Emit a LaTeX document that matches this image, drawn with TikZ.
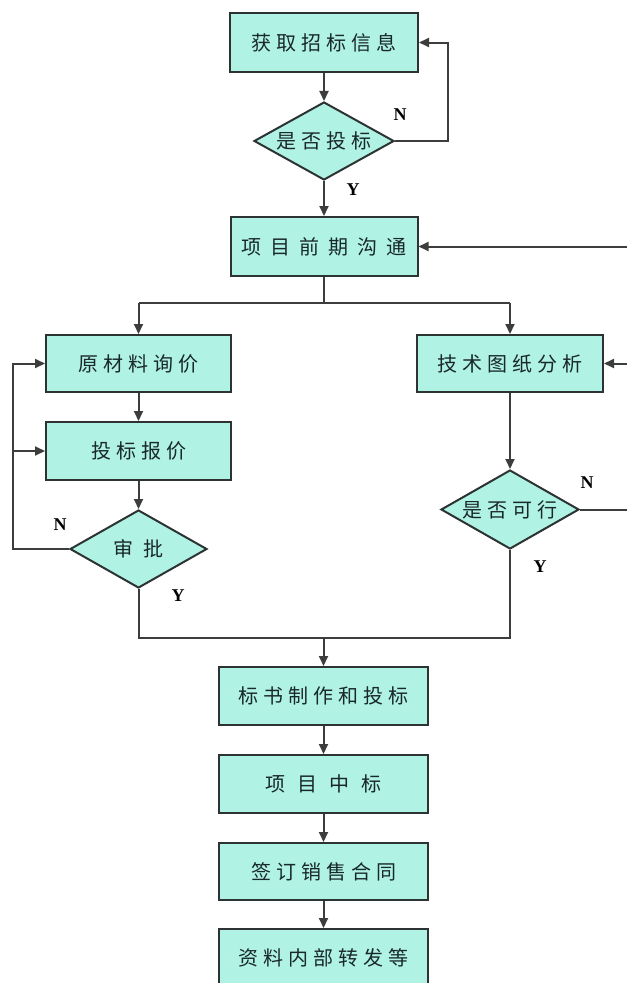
\documentclass[tikz,border=0pt]{standalone}
\usepackage{fontspec}
\setmainfont{Liberation Serif}
\newfontfamily\cjk{Noto Sans CJK SC}
\usetikzlibrary{shapes.geometric,arrows.meta}
\definecolor{boxfill}{RGB}{176,243,229}
\definecolor{boxline}{RGB}{45,50,50}
\definecolor{conn}{RGB}{60,62,62}
\definecolor{txt}{RGB}{25,40,40}
\newcommand{\gapa}{\hspace{5pt}}
\newcommand{\gapb}{\hspace{9pt}}
\begin{document}
\begin{tikzpicture}[x=1pt,y=-1pt,
  box/.style={draw=boxline,line width=2pt,fill=boxfill,rectangle,inner sep=0pt,
    minimum width=187pt,minimum height=58pt,text=txt,font=\cjk\fontsize{20}{20}\selectfont},
  dia/.style={draw=boxline,line width=2pt,fill=boxfill,diamond,inner sep=0pt,aspect=1.8},
  dtext/.style={text=txt,font=\cjk\fontsize{20}{20}\selectfont,inner sep=0pt},
  conn/.style={draw=conn,line width=2pt},
  arr/.style={conn,-{Triangle[length=10pt,width=9pt]}},
  yn/.style={font=\bfseries\fontsize{18}{18}\selectfont,text=black,inner sep=0pt}]
\useasboundingbox (0,0) rectangle (627,983);
\fill[white] (0,0) rectangle (627,983);

% nodes
\node[box,minimum width=188pt,minimum height=59pt] (b1) at (324,42.5) {获\gapa 取\gapa 招\gapa 标\gapa 信\gapa 息};
\node[dia,minimum width=140pt,minimum height=78pt] (d1) at (324,141) {};
\node[dtext] (d1t) at (d1) {是\gapa 否\gapa 投\gapa 标};
\node[box,minimum height=59pt] (b2) at (324,246.5) {项\gapb 目\gapb 前\gapb 期\gapb 沟\gapb 通};
\node[box,minimum width=185pt,minimum height=57pt] (b3) at (138.5,363.5) {原\gapa 材\gapa 料\gapa 询\gapa 价};
\node[box,minimum width=185pt] (b4) at (138.5,451) {投\gapa 标\gapa 报\gapa 价};
\node[dia,minimum width=137pt,minimum height=78pt] (d2) at (138.5,549) {};
\node[dtext] (d2t) at (d2) {审\hspace{10pt}批};
\node[box,minimum width=186pt,minimum height=57pt] (b5) at (510,363.5) {技\gapa 术\gapa 图\gapa 纸\gapa 分\gapa 析};
\node[dia,minimum width=138pt,minimum height=79pt] (d3) at (510,509.5) {};
\node[dtext] (d3t) at (d3) {是\gapa 否\gapa 可\gapa 行};
\node[box,minimum width=209pt] (b6) at (323.5,696) {标\gapa 书\gapa 制\gapa 作\gapa 和\gapa 投\gapa 标};
\node[box,minimum width=209pt] (b7) at (323.5,784) {项\hspace{12pt}目\hspace{12pt}中\hspace{12pt}标};
\node[box,minimum width=209pt,minimum height=57pt] (b8) at (323.5,871.5) {签\gapa 订\gapa 销\gapa 售\gapa 合\gapa 同};
\node[box,minimum width=209pt] (b9) at (323.5,958) {资\gapa 料\gapa 内\gapa 部\gapa 转\gapa 发\gapa 等};

% coordinates
\coordinate (inB2) at (627,246.5);
\coordinate (inB5) at (627,363.5);
\coordinate (outD3) at (627,509.5);
\coordinate (split) at (324,303);
\coordinate (splitL) at (138.5,303);
\coordinate (splitR) at (510,303);
\coordinate (loopL) at (13,549);
\coordinate (loopLt) at (13,363.5);
\coordinate (loopLm) at (13,451);
\coordinate (mergeL) at (138.5,638);
\coordinate (mergeR) at (510,638);
\coordinate (merge) at (323.5,638);

% connectors
\draw[arr] (b1) -- (d1);
\draw[arr] (d1.east) -- (448,141) -- (448,42.5) -- (b1.east);
\draw[arr] (d1) -- (b2);
\draw[arr] (inB2) -- (b2.east);
\draw[conn] (b2.south) -- (split);
\draw[conn] (splitL) -- (splitR);
\draw[arr] (splitL) -- (b3.north);
\draw[arr] (splitR) -- (b5.north);
\draw[arr] (b3) -- (b4);
\draw[arr] (b4) -- (d2);
\draw[arr] (d2.west) -- (loopL) -- (loopLt) -- (b3.west);
\draw[arr] (loopLm) -- (b4.west);
\draw[arr] (inB5) -- (b5.east);
\draw[arr] (b5) -- (d3);
\draw[conn] (d3.east) -- (outD3);
\draw[conn] (d2.south) -- (mergeL) -- (mergeR) -- (d3.south);
\draw[arr] (merge) -- (b6.north);
\draw[arr] (b6) -- (b7);
\draw[arr] (b7) -- (b8);
\draw[arr] (b8) -- (b9);

% labels
\node[yn] (n1) at (400,115) {N};
\node[yn] (y1) at (353,190) {Y};
\node[yn] (n2) at (60,525) {N};
\node[yn] (y2) at (178,596) {Y};
\node[yn] (n3) at (587,483) {N};
\node[yn] (y3) at (540,567) {Y};
\end{tikzpicture}
\end{document}
